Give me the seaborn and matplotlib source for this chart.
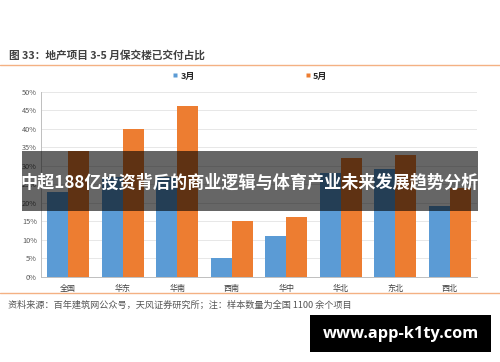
import matplotlib
matplotlib.use("Agg")
import matplotlib.pyplot as plt
import seaborn as sns
import pandas as pd
import numpy as np
from matplotlib.patches import Rectangle
from matplotlib.lines import Line2D

sns.set_theme(style="white")
plt.rcParams['font.family'] = ['Noto Sans CJK SC', 'DejaVu Sans']

categories = ["全国", "华东", "华南", "西南", "华中", "华北", "东北", "西北"]
march = [0.23, 0.27, 0.27, 0.05, 0.11, 0.28, 0.29, 0.19]
may = [0.34, 0.40, 0.46, 0.15, 0.16, 0.32, 0.33, 0.24]
series_names = ["3月", "5月"]
yticks = [0, 0.05, 0.10, 0.15, 0.20, 0.25, 0.30, 0.35, 0.40, 0.45, 0.50]

df = pd.DataFrame({
    "region": categories * 2,
    "value": march + may,
    "series": [series_names[0]] * len(categories) + [series_names[1]] * len(categories),
})

colors = {"3月": "#5B9BD5", "5月": "#ED7D31"}

fig = plt.figure(figsize=(5.0, 3.62), dpi=100)
ax = fig.add_axes([0.082, 0.2357, 0.872, 0.511])
sns.barplot(data=df, x="region", y="value", hue="series", palette=colors,
            width=0.77, ax=ax, legend=False, saturation=1, edgecolor="none")

ax.set_ylim(0, 0.5)
ax.set_xlim(-0.5, len(categories) - 0.5)
ax.set_yticks(yticks)
ax.set_yticklabels([f"{int(round(v*100))}%" for v in yticks], fontsize=5.3, color="#595959")
ax.set_xlabel("")
ax.set_ylabel("")
ax.tick_params(axis="x", which="major", length=0, labelsize=5.8, labelcolor="#404040", pad=5)
ax.tick_params(axis="y", length=0, pad=3)
ax.set_xticks(np.arange(-0.5, len(categories), 1.0), minor=True)
ax.tick_params(axis="x", which="minor", length=3, color="#BFBFBF", width=0.6)
ax.yaxis.grid(True, color="#E3E3E3", linewidth=0.6)
ax.set_axisbelow(True)
for s in ["top", "right"]:
    ax.spines[s].set_visible(False)
for s in ["left", "bottom"]:
    ax.spines[s].set_color("#BFBFBF")
    ax.spines[s].set_linewidth(0.7)

# legend
handles = [Line2D([0], [0], marker="s", linestyle="none", markersize=3.5,
                  markerfacecolor=colors[n], markeredgecolor="none") for n in series_names]
fig.legend(handles, series_names, loc="center", bbox_to_anchor=(0.5, 1 - 76/362),
           ncol=2, frameon=False, prop={"size": 6.5, "weight": "bold"},
           handlelength=0.6, handletextpad=0.3, columnspacing=12.2)

# title and lines
fig.text(9/500, 1 - 55/362, "图 33：地产项目 3-5 月保交楼已交付占比", fontsize=7.7,
         fontweight="bold", color="#404040", va="center", ha="left")
fig.add_artist(Line2D([0, 1], [1 - 65/362, 1 - 65/362], color="#F4B183", linewidth=1.0))
fig.add_artist(Line2D([0, 1], [1 - 293/362, 1 - 293/362], color="#F4B183", linewidth=1.0))
fig.text(8/500, 1 - 305/362, "资料来源：百年建筑网公众号，天风证券研究所；注：样本数量为全国 1100 余个项目",
         fontsize=6.6, color="#555555", va="center", ha="left")

# overlay band
fig.add_artist(Rectangle((22/500, 1 - 211/362), (478 - 22)/500, 60/362,
                         transform=fig.transFigure, facecolor="black", alpha=0.6,
                         edgecolor="none", zorder=10))
fig.text(250/500, 1 - 182/362, "中超188亿投资背后的商业逻辑与体育产业未来发展趋势分析",
         fontsize=12.3, fontweight="bold", color="white", ha="center", va="center", zorder=11)

# watermark
fig.add_artist(Rectangle((310/500, 1 - 352/362), 181/500, 37/362,
                         transform=fig.transFigure, facecolor="black",
                         edgecolor="none", zorder=10))
fig.text(400.5/500, 1 - 333.5/362, "www.app-k1ty.com", fontsize=11.8, fontweight="bold",
         color="white", ha="center", va="center", zorder=11, family=["Open Sans", "DejaVu Sans"])

fig.savefig("out.png", dpi=100)
